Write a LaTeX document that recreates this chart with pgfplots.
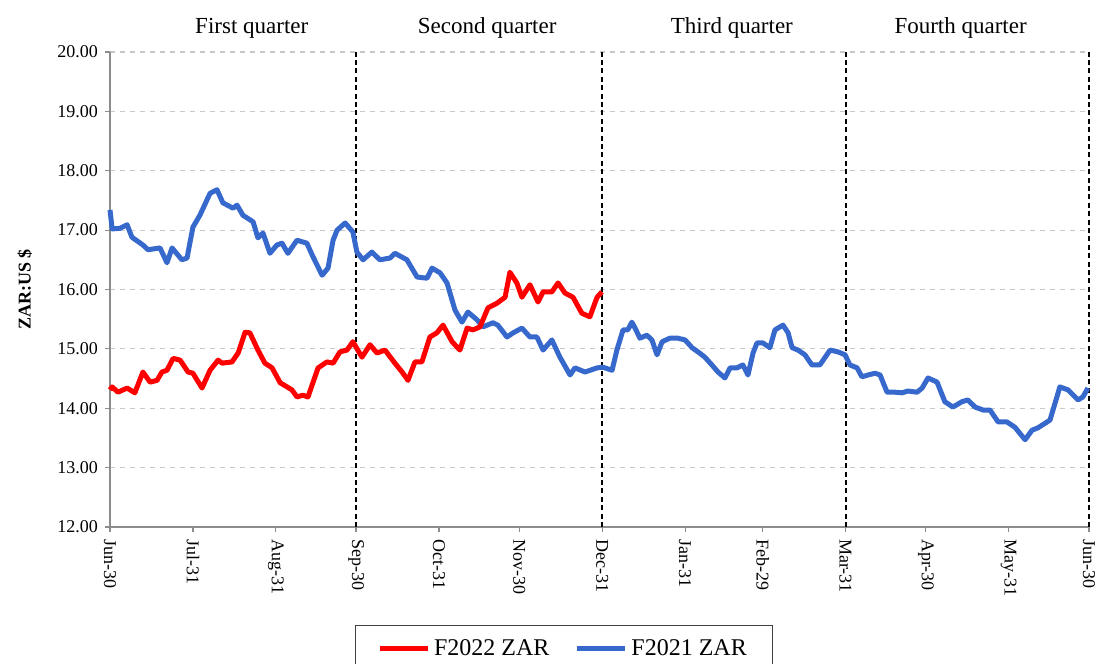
\documentclass[border=0pt]{standalone}
\usepackage{pgfplots}
\pgfplotsset{compat=1.18}
\usepackage{fontspec}
\setmainfont{Liberation Serif}
\definecolor{zred}{RGB}{255,0,0}
\definecolor{zblue}{RGB}{55,105,205}
\definecolor{gridgray}{RGB}{200,200,200}
\definecolor{axgray}{RGB}{140,140,140}

\begin{document}
\begin{tikzpicture}
\path[use as bounding box] (0,0) rectangle (549pt,332pt);
\begin{axis}[
  at={(55pt,68.5pt)}, anchor=south west,
  scale only axis, width=489.5pt, height=237.5pt,
  xmin=0, xmax=366, ymin=12, ymax=20,
  clip=false,
  axis lines*=left,
  axis line style={-, draw=axgray, line width=0.6pt},
  tick style={draw=axgray, line width=0.6pt},
  tick align=outside,
  major tick length=2.5pt,
  xtick={0,31,62,92,123,153,184,215,244,275,305,336,366},
  xticklabels={Jun-30,Jul-31,Aug-31,Sep-30,Oct-31,Nov-30,Dec-31,Jan-31,Feb-29,Mar-31,Apr-30,May-31,Jun-30},
  xticklabel style={rotate=-90, anchor=west, font=\fontsize{9}{10}\selectfont},
  ytick={12,13,14,15,16,17,18,19,20},
  yticklabel style={font=\fontsize{9}{10}\selectfont,
    /pgf/number format/fixed, /pgf/number format/fixed zerofill, /pgf/number format/precision=2},
  /pgf/number format/assume math mode=true,
  ymajorgrids,
  major grid style={draw=gridgray, dash pattern=on 2.5pt off 2.5pt, line width=0.6pt},
  ylabel={\textbf{ZAR:US \$}},
  ylabel style={at={(axis description cs:-0.087,0.5)}, anchor=center, font=\fontsize{9}{10}\selectfont},
  legend columns=2,
  legend style={at={(axis description cs:0.4637,-0.2063)}, anchor=north,
    draw=black!75, line width=0.5pt, font=\fontsize{12}{14}\selectfont,
    inner xsep=11pt, inner ysep=5pt,
    /tikz/every even column/.append style={column sep=10.5pt}},
  legend image code/.code={\draw[#1] (0pt,0pt) -- (24pt,0pt);},
]
\addlegendimage{zred, line width=2.5pt}
\addlegendentry{F2022 ZAR}
\addlegendimage{zblue, line width=2.5pt}
\addlegendentry{F2021 ZAR}

\draw[black, line width=1pt, dash pattern=on 2.5pt off 1.7pt] (axis cs:92,12) -- (axis cs:92,20);
\draw[black, line width=1pt, dash pattern=on 2.5pt off 1.7pt] (axis cs:184,12) -- (axis cs:184,20);
\draw[black, line width=1pt, dash pattern=on 2.5pt off 1.7pt] (axis cs:275,12) -- (axis cs:275,20);
\draw[black, line width=1pt, dash pattern=on 2.5pt off 1.7pt] (axis cs:366,12) -- (axis cs:366,20);

\addplot[zblue, line width=2.5pt, forget plot, line join=round] table {
x y
0 17.34
0.8 17.02
3.7 17.03
6.4 17.09
8.2 16.88
12.3 16.75
14.2 16.67
18.7 16.70
21.3 16.45
23.2 16.70
26.9 16.50
28.8 16.53
31.0 17.05
33.6 17.25
37.4 17.62
40.0 17.68
42.2 17.46
46.0 17.37
47.5 17.42
49.7 17.25
53.5 17.14
55.3 16.87
57.2 16.95
59.8 16.61
62.4 16.75
64.3 16.78
66.5 16.61
69.9 16.83
73.6 16.78
75.9 16.55
79.3 16.24
81.5 16.36
83.4 16.83
84.9 17.00
87.9 17.12
90.8 16.97
92.3 16.63
94.6 16.50
97.9 16.63
100.9 16.50
104.7 16.53
106.5 16.61
111.0 16.50
114.8 16.21
118.5 16.19
120.4 16.36
123.4 16.28
126.0 16.11
129.0 15.65
131.6 15.45
133.8 15.62
137.2 15.49
139.4 15.37
143.2 15.44
145.0 15.40
148.4 15.20
150.7 15.27
154.0 15.35
157.0 15.20
159.6 15.20
161.9 14.98
165.2 15.15
168.2 14.86
172.0 14.56
173.8 14.68
177.6 14.61
182.1 14.68
184.3 14.69
187.7 14.64
189.5 14.98
191.8 15.32
193.6 15.32
195.1 15.45
196.3 15.35
198.1 15.18
200.7 15.23
202.6 15.15
204.5 14.90
206.4 15.12
209.3 15.18
212.3 15.18
215.0 15.15
217.6 15.02
219.8 14.95
222.4 14.86
225.0 14.73
227.3 14.61
229.9 14.51
231.8 14.68
234.4 14.68
236.6 14.73
238.5 14.56
240.4 14.93
241.9 15.10
244.1 15.10
246.7 15.02
248.6 15.32
251.6 15.40
253.5 15.27
255.0 15.02
257.2 14.98
259.8 14.90
262.4 14.73
265.4 14.73
269.2 14.98
272.1 14.95
274.8 14.90
276.6 14.73
279.3 14.68
281.1 14.53
283.4 14.56
286.0 14.59
287.9 14.56
290.5 14.27
293.5 14.27
296.1 14.26
298.3 14.29
301.7 14.27
303.6 14.34
305.8 14.51
309.2 14.44
312.1 14.11
315.1 14.02
318.5 14.11
320.7 14.14
323.4 14.02
326.4 13.97
329.0 13.97
332.0 13.77
335.3 13.77
338.3 13.68
342.1 13.47
344.7 13.63
346.9 13.67
351.4 13.80
354.0 14.19
355.1 14.36
358.1 14.31
361.9 14.14
363.7 14.19
365.6 14.34
};

\addplot[zred, line width=2.5pt, forget plot, line join=round] table {
x y
0 14.31
0.8 14.36
3.0 14.27
6.4 14.34
9.3 14.26
12.3 14.61
15.0 14.44
17.6 14.47
19.4 14.61
21.3 14.64
23.6 14.84
26.2 14.81
29.2 14.61
31.0 14.59
34.4 14.34
37.4 14.64
40.4 14.81
41.9 14.76
45.6 14.78
47.9 14.93
50.5 15.28
52.3 15.27
55.3 14.98
57.9 14.76
60.6 14.68
63.6 14.43
68.0 14.31
69.9 14.19
72.1 14.22
74.0 14.19
77.8 14.68
81.1 14.78
83.4 14.76
86.0 14.95
88.6 14.98
90.8 15.12
94.2 14.86
97.2 15.07
99.8 14.93
102.8 14.98
106.5 14.76
109.2 14.61
111.4 14.47
114.0 14.78
116.6 14.78
119.6 15.20
122.2 15.27
124.5 15.40
127.9 15.12
130.8 14.98
133.5 15.35
135.7 15.32
138.3 15.37
141.3 15.69
144.7 15.77
147.7 15.87
149.5 16.29
152.1 16.11
154.0 15.87
157.0 16.08
160.0 15.79
161.9 15.96
165.2 15.96
167.5 16.11
170.1 15.94
173.1 15.87
176.4 15.60
179.4 15.54
182.1 15.87
183.9 15.96
};

\node[font=\fontsize{11.5}{13}\selectfont, yshift=12pt] at (axis cs:53,20) {First quarter};
\node[font=\fontsize{11.5}{13}\selectfont, yshift=12pt] at (axis cs:141,20) {Second quarter};
\node[font=\fontsize{11.5}{13}\selectfont, yshift=12pt] at (axis cs:232.5,20) {Third quarter};
\node[font=\fontsize{11.5}{13}\selectfont, yshift=12pt] at (axis cs:318,20) {Fourth quarter};
\end{axis}
\end{tikzpicture}
\end{document}
